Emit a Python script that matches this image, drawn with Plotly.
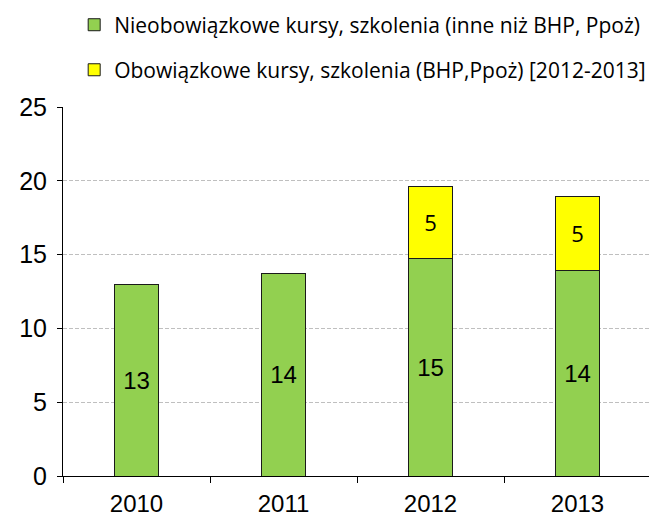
import plotly.graph_objects as go

years = ["2010", "2011", "2012", "2013"]
nieobowiazkowe = [13.0, 13.7, 14.75, 13.95]
obowiazkowe = [None, None, 4.85, 4.97]
name1 = "Nieobowiązkowe kursy, szkolenia (inne niż BHP, Ppoż)"
name2 = "Obowiązkowe kursy, szkolenia (BHP,Ppoż) [2012-2013]"

fig = go.Figure()
fig.add_trace(go.Bar(
    x=years, y=nieobowiazkowe, name=name1,
    marker=dict(color="#92D050", line=dict(color="#1A1A1A", width=1)),
    texttemplate="%{y:.0f}", textposition="inside", insidetextanchor="middle",
    textfont=dict(family="Liberation Sans", size=24, color="#000000"),
    legend="legend", width=0.3,
))
fig.add_trace(go.Bar(
    x=years, y=obowiazkowe, name=name2,
    marker=dict(color="#FFFF00", line=dict(color="#1A1A1A", width=1)),
    texttemplate="%{y:.0f}", textposition="inside", insidetextanchor="middle",
    textfont=dict(family="Open Sans", size=22, color="#000000"),
    legend="legend2", width=0.3,
))

legfont = dict(family="Open Sans", size=21, color="#000000")
fig.update_layout(
    barmode="stack",
    width=649, height=509,
    margin=dict(l=55, r=6, t=99, b=41, autoexpand=False),
    plot_bgcolor="white", paper_bgcolor="white",
    legend=dict(x=0.019, y=1.222, xanchor="left", yanchor="middle",
                font=legfont, bgcolor="rgba(0,0,0,0)", itemwidth=30),
    legend2=dict(x=0.019, y=1.100, xanchor="left", yanchor="middle",
                 font=legfont, bgcolor="rgba(0,0,0,0)", itemwidth=30),
    showlegend=True,
)
fig.update_yaxes(
    range=[0, 25], dtick=5, showgrid=True, gridcolor="#BFBFBF",
    griddash="4px,2px", gridwidth=1, showline=True, linecolor="#000000",
    linewidth=1, ticks="outside", ticklen=5, tickcolor="#000000",
    ticklabelstandoff=5,
    tickfont=dict(family="Liberation Sans", size=25, color="#000000"),
    zeroline=False,
)
fig.update_xaxes(
    range=[-0.5, 3.5], showline=True, linecolor="#000000", linewidth=1,
    ticks="outside", ticklen=6, tickcolor="#000000", tickson="boundaries",
    ticklabelstandoff=6,
    tickfont=dict(family="Liberation Sans", size=24, color="#000000"),
    showgrid=False,
)
fig.write_html("out.html")
